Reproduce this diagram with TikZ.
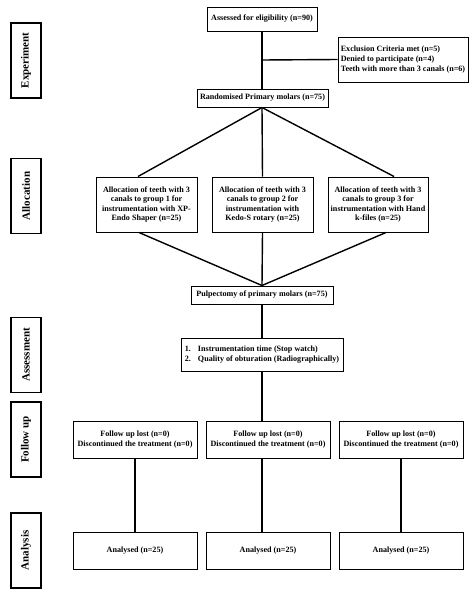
\documentclass[tikz,border=0pt]{standalone}
\usepackage{fontspec}
\setmainfont{Liberation Serif}
\begin{document}
\begin{tikzpicture}[x=1pt,y=-1pt,
  box/.style={draw,line width=1pt,inner sep=1pt,font=\bfseries\fontsize{8.1}{9.6}\selectfont,align=center},
  side/.style={draw,line width=1.2pt,minimum width=30pt,minimum height=75pt,inner sep=0pt},
  sidetext/.style={rotate=90,font=\bfseries\fontsize{11}{12}\selectfont},
  conn/.style={line width=1.4pt}]
\useasboundingbox (0,0) rectangle (474,597);
% side boxes
\node[side] (sExp) at (26,60.5) {};
\node[sidetext] (tExp) at (sExp.center) {Experiment};
\node[side] (sAll) at (26,196) {};
\node[sidetext] (tAll) at (sAll.center) {Allocation};
\node[side] (sAss) at (26,355) {};
\node[sidetext] (tAss) at (sAss.center) {Assessment};
\node[side] (sFol) at (26,439.5) {};
\node[sidetext] (tFol) at (sFol.center) {Follow up};
\node[side] (sAna) at (26,550.5) {};
\node[sidetext] (tAna) at (sAna.center) {Analysis};
% main boxes
\node[box,minimum width=110pt,minimum height=24pt] (elig) at (262,19) {Assessed for eligibility (n=90)};
\node[box,minimum width=130pt,minimum height=45pt,align=left] (excl) at (403,59.5) {Exclusion Criteria met (n=5)\\Denied to participate (n=4)\\Teeth with more than 3 canals (n=6)};
\node[box,minimum width=131pt,minimum height=18pt] (rand) at (262.5,98) {Randomised Primary molars (n=75)};
\node[box,minimum width=101pt,minimum height=55pt] (al1) at (146.5,204.5) {Allocation of teeth with 3\\canals to group 1 for\\instrumentation with XP-\\Endo Shaper (n=25)};
\node[box,minimum width=101pt,minimum height=55pt] (al2) at (262.5,204.5) {Allocation of teeth with 3\\canals to group 2 for\\instrumentation with\\Kedo-S rotary (n=25)};
\node[box,minimum width=100pt,minimum height=55pt] (al3) at (378,204.5) {Allocation of teeth with 3\\canals to group 3 for\\instrumentation with Hand\\k-files (n=25)};
\node[box,minimum width=142pt,minimum height=18pt] (pulp) at (262,295) {Pulpectomy of primary molars (n=75)};
\node[box,minimum width=162pt,minimum height=33pt,align=left] (ass) at (262,354.5) {1.\hspace{7pt}Instrumentation time (Stop watch)\\2.\hspace{7pt}Quality of obturation (Radiographically)};
\node[box,minimum width=124pt,minimum height=37pt] (fu1) at (135,439.5) {Follow up lost (n=0)\\Discontinued the treatment (n=0)};
\node[box,minimum width=124pt,minimum height=37pt] (fu2) at (268,439.5) {Follow up lost (n=0)\\Discontinued the treatment (n=0)};
\node[box,minimum width=124pt,minimum height=37pt] (fu3) at (401,439.5) {Follow up lost (n=0)\\Discontinued the treatment (n=0)};
\node[box,minimum width=124pt,minimum height=37pt] (an1) at (135,550.5) {Analysed (n=25)};
\node[box,minimum width=124pt,minimum height=37pt] (an2) at (268,550.5) {Analysed (n=25)};
\node[box,minimum width=124pt,minimum height=37pt] (an3) at (401,550.5) {Analysed (n=25)};
% connectors
\coordinate (jx) at (262,60);
\draw[conn] (elig.south) -- (elig.south |- rand.north);
\draw[conn] (jx) -- (excl.west);
\draw[conn] ([xshift=-0.5pt]rand.south) -- ([xshift=-8.5pt]al1.north);
\draw[conn] ([xshift=-0.5pt]rand.south) -- (al2.north);
\draw[conn] ([xshift=-0.5pt]rand.south) -- ([xshift=16pt]al3.north);
\draw[conn] ([xshift=-7.5pt]al1.south) -- (pulp.north);
\draw[conn] (al2.south) -- (pulp.north);
\draw[conn] ([xshift=8pt]al3.south) -- (pulp.north);
\draw[conn] (pulp.south) -- (ass.north);
\draw[conn] (ass.south) -- (ass.south |- fu2.north);
\draw[conn] (fu1.south) -- (an1.north);
\draw[conn] (ass.south |- fu2.south) -- (ass.south |- an2.north);
\draw[conn] (fu3.south) -- (an3.north);
\end{tikzpicture}
\end{document}
